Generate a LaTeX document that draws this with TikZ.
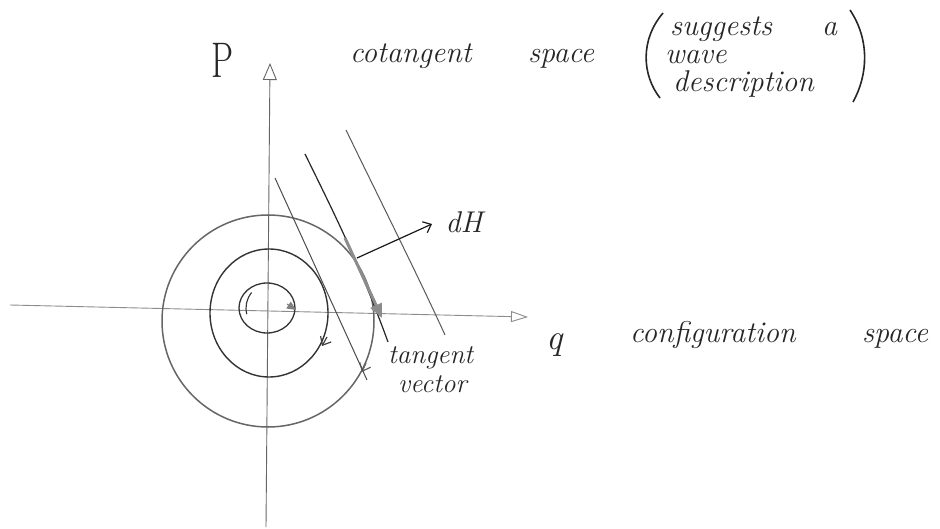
\documentclass[tikz,border=0pt]{standalone}
\usetikzlibrary{arrows.meta}
\begin{document}
\begin{tikzpicture}[x=1pt,y=-1pt,
  axis/.style={draw=black!60, line width=0.9pt},
  orbit/.style={draw=black!60, line width=1.5pt},
  pencil/.style={draw=black!75, line width=1.1pt},
  hand/.style={text=black!85, font=\fontsize{30}{30}\selectfont\itshape, inner sep=0pt},
  handsmall/.style={hand, font=\fontsize{27}{27}\selectfont\itshape},
  barb/.style={-{Straight Barb[length=7pt,width=12pt]}, line width=1.2pt, draw=black!75},
]
\useasboundingbox (0,0) rectangle (940,529);
\fill[white] (0,0) rectangle (940,529);

% axes
\coordinate (vb) at (266,527);
\coordinate (vt) at (270,63);
\draw[axis, -{Triangle[open,length=17pt,width=14pt]}] (vb) -- (vt);
\coordinate (hl) at (10,305);
\coordinate (hr) at (528,317);
\draw[axis, draw=black!45, -{Triangle[open,length=17pt,width=11pt]}] (hl) -- (hr);

% orbits
\coordinate (c1) at (268,321);
\coordinate (c2) at (269,313);
\coordinate (c3) at (267,308);
\draw[orbit] (c1) circle[radius=106pt];
\draw[draw=black!80, line width=1.4pt] (c2) ellipse[x radius=59pt, y radius=64pt];
\draw[draw=black!80, line width=1.3pt] (c3) ellipse[x radius=28pt, y radius=25pt];
\draw[draw=black!80, line width=1.1pt] (270,308) ++(140:24pt) arc[start angle=140, end angle=195, radius=24pt];

% orbit arrow marks
\coordinate (i1) at (287,304);
\coordinate (i2) at (296,310);
\draw[draw=black!50, line width=1pt, -{Triangle[length=9pt,width=8pt]}, fill=black!50] (i1) -- (i2);
\coordinate (m1) at (327,337);
\coordinate (m2) at (322,346);
\draw[barb] (m1) -- (m2);
\coordinate (o1) at (366,363);
\coordinate (o2) at (362,372);
\draw[barb, draw=black!60] (o1) -- (o2);

% tangent lines (level sets)
\coordinate (a1) at (275,178);
\coordinate (a2) at (367,380);
\draw[pencil, draw=black!70, line width=1pt] (a1) -- (a2);
\coordinate (b1) at (305,154);
\coordinate (b2) at (388,342);
\draw[pencil, draw=black!85, line width=1.2pt] (b1) .. controls (335,215) and (360,265) .. (b2);
\coordinate (d1) at (346,130);
\coordinate (d2) at (445,335);
\draw[pencil, draw=black!65, line width=1pt] (d1) .. controls (380,200) and (420,280) .. (d2);

% tangent vector
\coordinate (t1) at (345,238);
\coordinate (t2) at (382,318);
\draw[line width=3pt, draw=black!45, -{Triangle[length=14pt,width=12pt]}] (t1) -- (t2);

% dH arrow
\coordinate (h1) at (357,258);
\coordinate (h2) at (432,224);
\draw[barb, draw=black!90] (h1) -- (h2);

% labels
\node[hand, anchor=base west, font=\fontsize{50}{50}\selectfont] (P) at (211,78) {\scalebox{0.7}[1]{P}};
\node[hand, anchor=base west] (cot) at (350,63) {cotangent};
\node[hand, anchor=base west] (sp1) at (528,63) {space};
\node[hand, anchor=base west] (sug) at (670,36) {suggests};
\node[hand, anchor=base west] (aa) at (822,36) {a};
\node[hand, anchor=base west] (wave) at (665,64) {wave};
\node[hand, anchor=base west] (desc) at (673,92) {description};
\coordinate (lp1) at (663,13);
\coordinate (lp2) at (660,98);
\draw[line width=1.6pt, draw=black!85] (lp1) .. controls (640,40) and (642,75) .. (lp2);
\coordinate (rp1) at (850,10);
\coordinate (rp2) at (853,102);
\draw[line width=1.6pt, draw=black!85] (rp1) .. controls (870,40) and (868,75) .. (rp2);
\node[hand] (dH) at (464,222) {dH};
\node[handsmall, anchor=base west] (tan) at (388,363) {tangent};
\node[handsmall, anchor=base west] (vec) at (398,392) {vector};
\node[hand, font=\fontsize{36}{36}\selectfont\itshape] (q) at (555,345) {q};
\node[hand, anchor=base west] (conf) at (630,342) {configuration};
\node[hand, anchor=base west] (sp2) at (862,342) {space};
\end{tikzpicture}
\end{document}
